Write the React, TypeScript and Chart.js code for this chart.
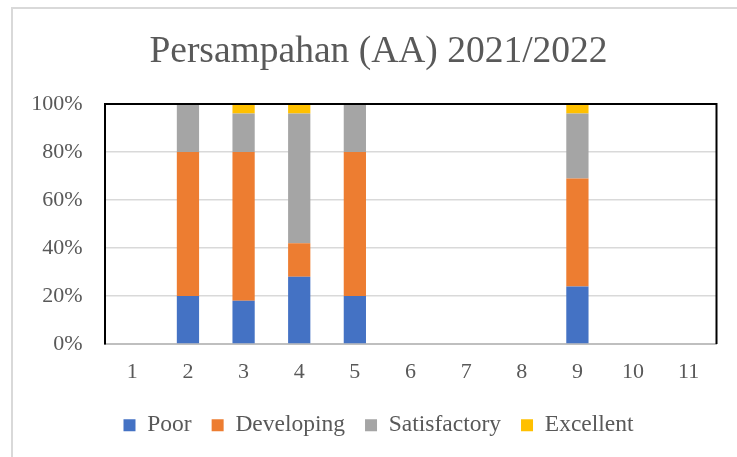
import React, { useEffect, useRef } from "react";
import { Chart, registerables } from "chart.js";

Chart.register(...registerables);

const categories = ["1", "2", "3", "4", "5", "6", "7", "8", "9", "10", "11"];
const poor = [0, 20, 18, 28, 20, 0, 0, 0, 24, 0, 0];
const developing = [0, 60, 62, 14, 60, 0, 0, 0, 45, 0, 0];
const satisfactory = [0, 20, 16, 54, 20, 0, 0, 0, 27, 0, 0];
const excellent = [0, 0, 4, 4, 0, 0, 0, 0, 4, 0, 0];
const yTicks = [0, 20, 40, 60, 80, 100];
const titleText = "Persampahan (AA) 2021/2022";

const SERIF = "'Liberation Serif', 'Times New Roman', serif";
const TEXT = "#595959";

const plotFrame = {
  id: "plotFrame",
  afterDatasetsDraw(chart: any) {
    const { ctx, chartArea } = chart;
    ctx.save();
    ctx.strokeStyle = "#000000";
    ctx.lineWidth = 2;
    ctx.beginPath();
    ctx.moveTo(chartArea.left, chartArea.top);
    ctx.lineTo(chartArea.right, chartArea.top);
    ctx.lineTo(chartArea.right, chartArea.bottom);
    ctx.stroke();
    ctx.restore();
  },
};

export default function App() {
  const ref = useRef<HTMLCanvasElement | null>(null);

  useEffect(() => {
    document.body.style.margin = "0";
    const canvas = ref.current;
    if (!canvas) return;
    const chart = new Chart(canvas, {
      type: "bar",
      data: {
        labels: categories,
        datasets: [
          { label: "Poor", data: poor, backgroundColor: "#4472C4" },
          { label: "Developing", data: developing, backgroundColor: "#ED7D31" },
          { label: "Satisfactory", data: satisfactory, backgroundColor: "#A5A5A5" },
          { label: "Excellent", data: excellent, backgroundColor: "#FFC000" },
        ],
      },
      options: {
        responsive: false,
        animation: false,
        devicePixelRatio: 1,
        layout: { padding: { left: 20, right: 0, top: 0, bottom: 10 } },
        datasets: {
          bar: { barPercentage: 0.4, categoryPercentage: 1.0, borderWidth: 0 },
        },
        scales: {
          x: {
            stacked: true,
            grid: { display: false, drawTicks: false },
            border: { display: true, color: "#BFBFBF", width: 2 },
            ticks: {
              color: TEXT,
              font: { family: SERIF, size: 22 },
              padding: 15,
              maxRotation: 0,
            },
            afterFit: (scale: any) => {
              scale.height = 49.5;
            },
          },
          y: {
            stacked: true,
            min: 0,
            max: 100,
            grid: { color: "#D9D9D9", lineWidth: 1.5, drawTicks: false },
            border: { display: true, color: "#000000", width: 2 },
            afterBuildTicks: (scale: any) => {
              scale.ticks = yTicks.map((v) => ({ value: v }));
            },
            ticks: {
              color: TEXT,
              font: { family: SERIF, size: 22 },
              padding: 22,
              callback: (v: any) => v + "%",
            },
            afterFit: (scale: any) => {
              scale.width = 84.5;
            },
          },
          yRight: {
            position: "right",
            display: true,
            grid: { display: false, drawTicks: false },
            border: { display: false },
            ticks: { display: false },
            afterFit: (scale: any) => {
              scale.width = 20.5;
            },
          },
        },
        plugins: {
          title: {
            display: true,
            text: titleText,
            color: TEXT,
            font: { family: SERIF, size: 37.5, weight: "normal" },
            padding: { top: 29.5, bottom: 29.5 },
          },
          legend: {
            display: true,
            position: "bottom",
            labels: {
              color: TEXT,
              font: { family: SERIF, size: 23.5 },
              boxWidth: 12,
              boxHeight: 12,
              padding: 20,
            },
          },
          tooltip: { enabled: false },
        },
      },
      plugins: [plotFrame],
    });
    return () => chart.destroy();
  }, []);

  return (
    <div
      style={{
        position: "relative",
        width: 737,
        height: 457,
        overflow: "hidden",
        background: "#FFFFFF",
      }}
    >
      <canvas ref={ref} width={737} height={457} style={{ display: "block" }} />
      <div
        style={{
          position: "absolute",
          left: 11,
          top: 7,
          width: 800,
          height: 500,
          border: "2px solid #D9D9D9",
          pointerEvents: "none",
        }}
      />
    </div>
  );
}
